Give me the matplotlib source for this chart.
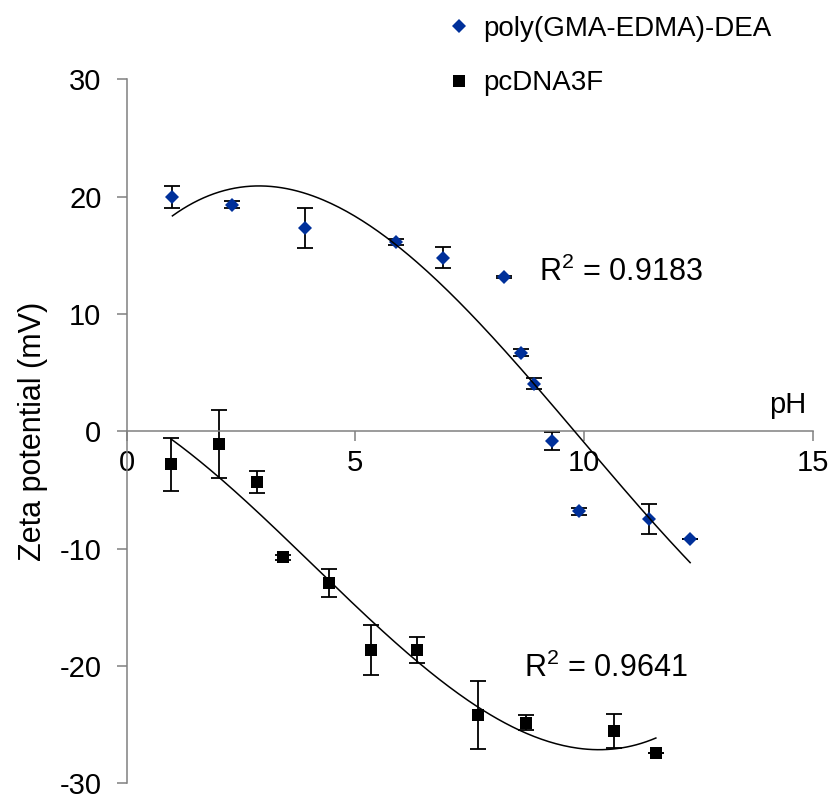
import numpy as np
import matplotlib
matplotlib.use("Agg")
import matplotlib.pyplot as plt

plt.rcParams['font.family'] = ['Liberation Sans', 'DejaVu Sans']
plt.rcParams['mathtext.fontset'] = 'custom'
plt.rcParams['mathtext.rm'] = 'Liberation Sans'
plt.rcParams['mathtext.default'] = 'regular'
plt.rcParams['axes.unicode_minus'] = False

# данные: poly(GMA-EDMA)-DEA
ph_poly = np.array([1.00, 2.30, 3.90, 5.89, 6.92, 8.24, 8.62, 8.91, 9.29, 9.89, 11.42, 12.32])
zeta_poly = np.array([20.0, 19.32, 17.31, 16.16, 14.8, 13.13, 6.70, 4.06, -0.83, -6.80, -7.48, -9.15])
err_poly = np.array([0.93, 0.3, 1.7, 0.25, 0.9, 0.1, 0.3, 0.45, 0.8, 0.3, 1.28, 0.0])

# данные: pcDNA3F
ph_dna = np.array([0.97, 2.01, 2.84, 3.42, 4.43, 5.34, 6.34, 7.68, 8.73, 10.66, 11.57])
zeta_dna = np.array([-2.81, -1.08, -4.32, -10.74, -12.91, -18.64, -18.64, -24.19, -24.84, -25.55, -27.4])
err_dna = np.array([2.27, 2.86, 0.95, 0.2, 1.17, 2.17, 1.07, 2.9, 0.63, 1.42, 0.0])

r2_poly = "R$^2$ = 0.9183"
r2_dna = "R$^2$ = 0.9641"

fs = 21
grey = '#808080'
blue = '#00309A'

fig = plt.figure(figsize=(8.34, 7.98), dpi=100)
ax = fig.add_axes([0.1519, 0.0184, 0.8226, 0.8822])

# планки погрешностей
ax.errorbar(ph_poly, zeta_poly, yerr=err_poly, fmt='none', ecolor='black',
            elinewidth=1.3, capsize=5.5, capthick=1.3, zorder=2)
ax.errorbar(ph_dna, zeta_dna, yerr=err_dna, fmt='none', ecolor='black',
            elinewidth=1.3, capsize=5.5, capthick=1.3, zorder=2)

# точки
ax.plot(ph_poly, zeta_poly, ls='none', marker='D', ms=6.8, mew=0, color=blue,
        label='poly(GMA-EDMA)-DEA', zorder=3)
ax.plot(ph_dna, zeta_dna, ls='none', marker='s', ms=8.2, mew=0, color='black',
        label='pcDNA3F', zorder=3)

# полиномиальные линии тренда
for xd, yd in [(ph_poly, zeta_poly), (ph_dna, zeta_dna)]:
    c = np.polyfit(xd, yd, 3)
    xs = np.linspace(xd.min(), xd.max(), 200)
    ax.plot(xs, np.polyval(c, xs), color='black', lw=1.1, zorder=4)

ax.text(9.02, 12.84, r2_poly, fontsize=fs + 1, ha='left', va='baseline')
ax.text(8.69, -20.97, r2_dna, fontsize=fs + 1, ha='left', va='baseline')
ax.text(14.87, 1.53, 'pH', fontsize=fs, ha='right', va='baseline')

# оси
ax.set_xlim(0, 15)
ax.set_ylim(-30, 30)
ax.set_xticks([0, 5, 10, 15])
ax.set_yticks([-30, -20, -10, 0, 10, 20, 30])
ax.spines['top'].set_visible(False)
ax.spines['right'].set_visible(False)
ax.spines['bottom'].set_position(('data', 0))
for s in ['left', 'bottom']:
    ax.spines[s].set_color(grey)
    ax.spines[s].set_linewidth(1.1)
ax.tick_params(axis='both', direction='out', length=7.2, width=1.1, color=grey,
               labelsize=fs)
ax.tick_params(axis='x', pad=5.4)
ax.tick_params(axis='y', pad=11)

ax.set_ylabel('Zeta potential (mV)', fontsize=fs + 1)
ax.yaxis.set_label_coords(-0.115, 0.5)

fig.legend(loc='upper left', bbox_to_anchor=(0.540, 0.980), frameon=False,
           fontsize=fs - 1, handlelength=0.6, handletextpad=0.57,
           labelspacing=1.02, borderpad=0, borderaxespad=0)

fig.savefig('out.png', dpi=100)
